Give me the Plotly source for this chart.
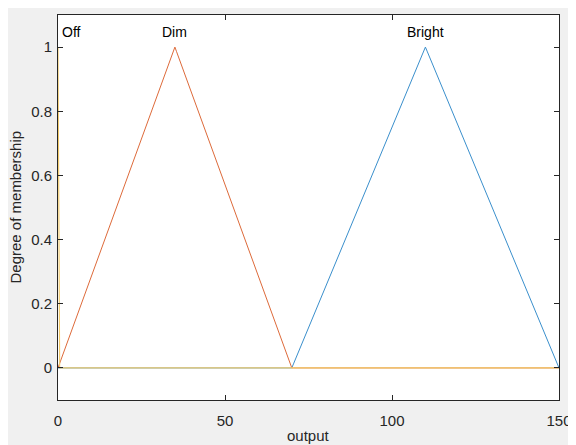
import plotly.graph_objects as go
import numpy as np

# Membership function definitions (triangular: a, b, c)
mf_names = ["Bright", "Dim", "Off"]
mf_params = [[70, 110, 150], [0, 35, 70], [0, 0, 0.5]]
mf_colors = ["#3A8FCC", "#DD6A3A", "#F2CA6A"]
label_x = [110, 35, 0]
x_range = [0, 150]
y_range = [-0.1, 1.1]
x_ticks = [0, 50, 100, 150]
y_ticks = [0, 0.2, 0.4, 0.6, 0.8, 1]
y_ticktext = ["0", "0.2", "0.4", "0.6", "0.8", "1"]
x_title = "output"
y_title = "Degree of membership"

def trimf(x, a, b, c):
    y = np.zeros_like(x, dtype=float)
    if b > a:
        m = (x >= a) & (x <= b)
        y[m] = (x[m] - a) / (b - a)
    else:
        y[x == a] = 1.0
    if c > b:
        m = (x >= b) & (x <= c)
        y[m] = (c - x[m]) / (c - b)
    y[x == b] = 1.0
    return y

xs = np.unique(np.concatenate([np.linspace(0, 150, 301), [0.5]]))

fig = go.Figure()
for name, p, col in zip(mf_names, mf_params, mf_colors):
    fig.add_trace(go.Scatter(x=xs, y=trimf(xs, *p), mode="lines",
                             line=dict(color=col, width=1.1 if name == "Off" else 1),
                             name=name, showlegend=False, hoverinfo="skip"))

for name, lx in zip(mf_names, label_x):
    fig.add_annotation(x=lx, y=1.0, text=name, showarrow=False,
                       xanchor="left" if lx == 0 else "center", yanchor="bottom",
                       yshift=5, xshift=2 if lx == 0 else 0,
                       font=dict(size=14, color="#000000"))

# axis titles
fig.add_annotation(x=0.5, y=0, xref="paper", yref="paper", text=x_title,
                   showarrow=False, xanchor="center", yanchor="middle", yshift=-35,
                   font=dict(size=15, color="#262626"))
fig.add_annotation(x=0, y=0.5, xref="paper", yref="paper", text=y_title,
                   showarrow=False, xanchor="center", yanchor="middle", xshift=-43,
                   textangle=-90, font=dict(size=15, color="#262626"))

axis_common = dict(showline=True, linecolor="#262626", linewidth=1, mirror="ticks",
                   ticks="inside", ticklen=5, tickcolor="#262626",
                   showgrid=False, zeroline=False, automargin=False,
                   tickfont=dict(size=15, color="#262626"))

# page body has an 8px margin, so the figure is sized to fit the window
fig.update_layout(
    width=568, height=437,
    margin=dict(l=50, r=17, t=7, b=45),
    paper_bgcolor="#F0F0F0", plot_bgcolor="#FFFFFF",
    font=dict(family="Liberation Sans, Arial, sans-serif", color="#262626"),
    xaxis=dict(range=x_range, tickvals=x_ticks, ticklabelstandoff=7, **axis_common),
    yaxis=dict(range=y_range, tickvals=y_ticks, ticktext=y_ticktext,
               ticklabelstandoff=2, **axis_common),
)

fig.write_html("out.html")
